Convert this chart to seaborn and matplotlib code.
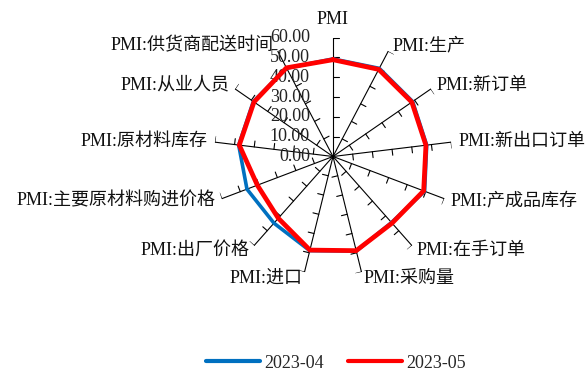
import numpy as np
import pandas as pd
import matplotlib
matplotlib.use("Agg")
import matplotlib.pyplot as plt
import matplotlib.transforms as mtransforms
from matplotlib.lines import Line2D
import seaborn as sns

# ---------------- data ----------------
categories = ["PMI", "PMI:生产", "PMI:新订单", "PMI:新出口订单", "PMI:产成品库存",
              "PMI:在手订单", "PMI:采购量", "PMI:进口", "PMI:出厂价格",
              "PMI:主要原材料购进价格", "PMI:原材料库存", "PMI:从业人员",
              "PMI:供货商配送时间"]
apr_2023 = [49.2, 50.2, 48.8, 47.6, 49.4, 44.5, 49.1, 48.9, 44.9, 46.4, 47.9, 48.8, 50.3]
may_2023 = [48.8, 49.6, 48.3, 47.2, 48.9, 44.9, 48.9, 48.6, 41.6, 40.8, 47.6, 48.4, 50.5]
series_names = ["2023-04", "2023-05"]
r_ticks = [0, 10, 20, 30, 40, 50, 60]

# ---------------- style ----------------
sns.set_theme(style="white")
plt.rcParams['font.family'] = ['Liberation Serif', 'Noto Sans CJK SC']
plt.rcParams['axes.unicode_minus'] = False

colors = {"2023-04": "#0070C0", "2023-05": "#FF0000"}
widths = {"2023-04": 2.6, "2023-05": 3.4}
FS = 13

fig = plt.figure(figsize=(5.86, 3.72), dpi=100)
ax = fig.add_axes([0.3652, 0.2594, 0.4061, 0.6398], projection='polar')
ax.set_theta_zero_location('N')
ax.set_theta_direction(-1)
ax.set_facecolor('none')

n = len(categories)
angles = np.arange(n) * 2 * np.pi / n
rmax = r_ticks[-1]

# spokes with tick marks on the clockwise side
L = 3.0
for a in angles:
    ax.plot([a, a], [0, rmax], color='black', lw=0.8, zorder=1)
    for r in r_ticks[1:]:
        r2 = np.hypot(r, L)
        a2 = a + np.arctan(L / r)
        ax.plot([a, a2], [r, r2], color='black', lw=0.8, zorder=1)

# series
rows = []
for name, vals in zip(series_names, [apr_2023, may_2023]):
    th = list(angles) + [2 * np.pi]
    vv = list(vals) + [vals[0]]
    for t, v in zip(th, vv):
        rows.append({"theta": t, "value": v, "series": name})
df = pd.DataFrame(rows)
for name in series_names:
    sns.lineplot(data=df[df.series == name], x="theta", y="value", sort=False,
                 estimator=None, color=colors[name], lw=widths[name], ax=ax,
                 zorder=3, solid_joinstyle='miter')

ax.set_ylim(0, rmax)
ax.set_xticks([])
ax.set_yticks([])
ax.grid(False)
ax.spines['polar'].set_visible(False)
ax.set_xlabel("")
ax.set_ylabel("")

# radial value labels along the vertical spoke
for r in r_ticks:
    tr = mtransforms.offset_copy(ax.transData, fig=fig, x=-23, y=0, units='dots')
    ax.text(0, r, f"{r:.2f}", transform=tr, ha='right', va='center',
            fontsize=FS, color='#222222', zorder=2)

# category labels
for a, lab in zip(angles, categories):
    s, c = np.sin(a), np.cos(a)
    if abs(s) < 0.05:
        tr = mtransforms.offset_copy(ax.transData, fig=fig, x=0, y=18.5, units='dots')
        ha = 'center'
    else:
        dx = 6 * s + np.sign(s) * 1.0
        dy = 6.5 * c
        tr = mtransforms.offset_copy(ax.transData, fig=fig, x=dx, y=dy, units='dots')
        ha = 'left' if s > 0 else 'right'
    ax.text(a, rmax, lab, transform=tr, ha=ha, va='center', fontsize=FS,
            color='#111111', zorder=2)

# legend
handles = [Line2D([0], [0], color=colors[nm], lw=3.0, solid_capstyle='round')
           for nm in series_names]
fig.legend(handles, series_names, loc='center', bbox_to_anchor=(0.573, 0.024),
           ncol=2, frameon=False, fontsize=FS, handlelength=3.0,
           handletextpad=0.25, columnspacing=1.3)

fig.savefig("out.png", dpi=100)
